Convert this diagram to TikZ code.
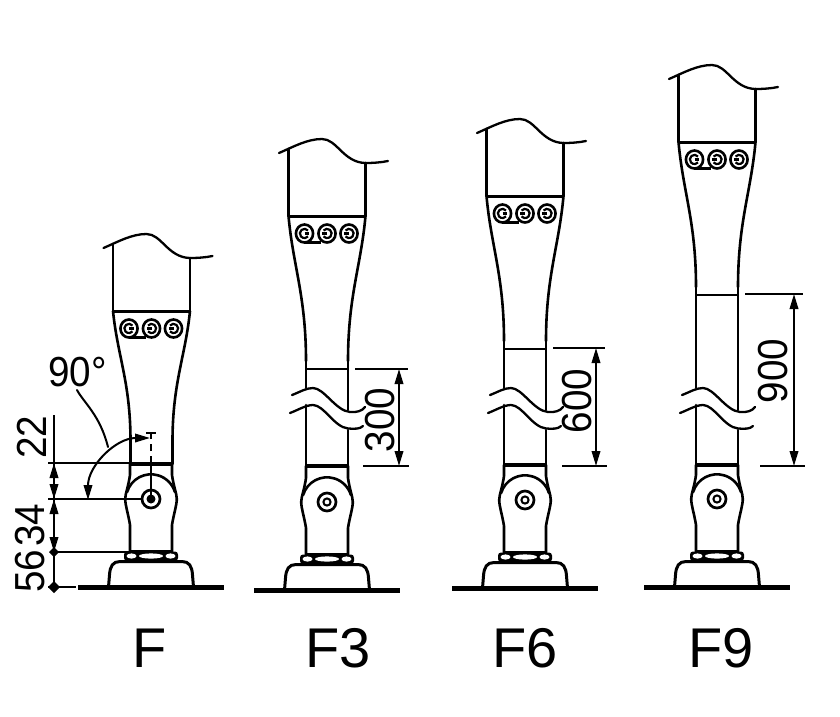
\documentclass[tikz,border=0pt]{standalone}
\usepackage{fontspec}
\setmainfont{Liberation Sans}
\usetikzlibrary{arrows.meta}
\tikzset{
  x=1pt,y=-1pt,
  body/.style={line width=2.6pt,line cap=round,line join=round},
  thinl/.style={line width=1.7pt},
  thickbar/.style={line width=4.5pt},
  wavel/.style={line width=2.3pt,line cap=round},
  dimline/.style={line width=2pt},
  dimarrow/.style={line width=2pt,{Triangle[length=15pt,width=8.5pt]}-{Triangle[length=15pt,width=8.5pt]}},
  dimtext/.style={inner sep=0pt,font=\fontsize{42}{42}\selectfont},
  modeltext/.style={inner sep=0pt,anchor=base,font=\fontsize{56}{56}\selectfont},
  logol/.style={line width=2.6pt},
  logoi/.style={line width=2.2pt}
}
\newcommand{\narrowtxt}[1]{\scalebox{0.92}[1]{#1}}
% foot: #1 centre x, #2 ground y, #3 bar y relative to ground, #4 1 = filled pin
\newcommand{\footpart}[4]{%
\begin{scope}[shift={(#1,#2)}]
  \fill (-73,-2.5) rectangle (73,2.5);
  \draw[line width=3pt,line join=round] (-42.5,0) -- (-41.5,-12) .. controls (-41,-21) and (-38,-25.5) .. (-31,-25.5) -- (31,-25.5) .. controls (38,-25.5) and (41,-21) .. (41.5,-12) -- (42.5,0);
  \fill[rounded corners=3pt] (-27,-35.5) rectangle (27,-26);
  \fill[white] (-19.5,-31) ellipse [x radius=5pt,y radius=2.6pt];
  \fill[white] (0,-31) ellipse [x radius=12pt,y radius=2.6pt];
  \fill[white] (19.5,-31) ellipse [x radius=5pt,y radius=2.6pt];
  \draw[body] (-21,-35) -- (-21,-62) .. controls (-22.5,-72) and (-25.8,-82) .. (-25.8,-88) .. controls (-25.8,-93) and (-22.5,-101) .. (-21,-112) -- (-21,#3);
  \draw[body] (21,-35) -- (21,-62) .. controls (22.5,-72) and (25.8,-82) .. (25.8,-88) .. controls (25.8,-93) and (22.5,-101) .. (21,-112) -- (21,#3);
  \draw[thinl] (-21,-36) -- (21,-36);
  \draw[body] (-23.9,-95) arc[start angle=163,end angle=17,radius=25pt];
  \draw[thickbar] (-21,#3) -- (21,#3);
  \draw[line width=2.7pt] (0,-88) circle[radius=9pt];
  \ifnum#4=1 \fill (0,-88) circle[radius=4.5pt];
  \else \draw[line width=2pt] (0,-88) circle[radius=3.6pt];\fi
\end{scope}}
% upper shaft: #1 centre x, #2 thick line y, #3 taper length
\newcommand{\upperpart}[3]{%
\begin{scope}[shift={(#1,#2)}]
  \draw[wavel] (-48,-63) .. controls (-34,-69) and (-20,-77) .. (-5,-77) .. controls (10,-77) and (16,-54) .. (38,-53) .. controls (46,-53) and (54,-53.5) .. (61,-55);
  \draw[body] (-38.5,-67) -- (-38.5,0);
  \draw[body] (38.5,-53) -- (38.5,0);
  \draw[line width=3pt] (-38.5,0) -- (38.5,0);
  \draw[body] (-38.5,0) .. controls (-34,{0.345*#3}) and (-21,{0.55*#3}) .. (-21,#3);
  \draw[body] (38.5,0) .. controls (34,{0.345*#3}) and (21,{0.55*#3}) .. (21,#3);
  \begin{scope}[shift={(0,17.5)}]
    \foreach \lx in {-22.5,0,22} \draw[logol] (\lx,0) ellipse[x radius=8.6pt,y radius=9pt];
    \draw[logoi] (-19,-3) arc[start angle=40,end angle=320,radius=4.6pt];
    \draw[logoi] (-22.5,0) -- (-18,0);
    \draw[logoi] (-3.5,-3) arc[start angle=140,end angle=-140,radius=4.6pt];
    \draw[logoi] (0,0) -- (-4.6,0);
    \draw[logoi] (18.5,-3) arc[start angle=140,end angle=-140,radius=4.6pt];
    \draw[logoi] (22,0) -- (17.4,0);
    \draw[line width=2.3pt] (-22.5,9) -- (-6,9);
  \end{scope}
\end{scope}}
% broken narrow part: #1 centre x, #2 taper end y, #3 thin line y, #4 bar y
\newcommand{\brokenpart}[4]{%
\begin{scope}[shift={(#1,0)}]
  \draw[thinl] (-21,#3) -- (21,#3);
  \draw[body] (-21,#2) -- (-21,388);
  \draw[body] (21,#2) -- (21,410);
  \draw[body] (-21,405) -- (-21,#4);
  \draw[body] (21,430) -- (21,#4);
  \draw[wavel] (-35,395) .. controls (-27,392) and (-21,388) .. (-14,388) .. controls (-3,388) and (9,411) .. (23,412) .. controls (30,412.5) and (35,411) .. (38,407);
  \draw[wavel] (-37,413) .. controls (-29,410) and (-21,405) .. (-14,405) .. controls (-3,405) and (7,427) .. (21,428.5) .. controls (28,429) and (33,429) .. (36,426);
\end{scope}}
\begin{document}
\begin{tikzpicture}
\useasboundingbox (0,0) rectangle (840,716);
\fill[white] (0,0) rectangle (840,716);

% --- F ---
\upperpart{151.5}{311}{130}
\draw[body] (130.5,441) -- (130.5,464);
\draw[body] (172.5,441) -- (172.5,464);
\footpart{151}{587}{-123}{1}
% --- F3 ---
\upperpart{327}{216}{145}
\brokenpart{327}{361}{369}{466}
\footpart{327}{590}{-124}{0}
% --- F6 ---
\upperpart{525}{196}{145}
\brokenpart{525}{341}{349}{465}
\footpart{525}{588}{-123}{0}
% --- F9 ---
\upperpart{717}{142}{145}
\brokenpart{717}{287}{295}{465}
\footpart{717}{587}{-122}{0}

% --- dimensions F ---
\coordinate (dimtop) at (54,415);
\coordinate (dimbot) at (54,587);
\coordinate (d22) at (54,463);
\coordinate (d34) at (54,499);
\coordinate (d56) at (54,552);
\draw[dimline] (dimtop) -- (dimbot);
\draw[dimline] (48,463) -- (130,463);
\draw[dimline] (48,499) -- (142,499);
\draw[dimline] (d56) -- (130,552);
\draw[dimline] (48,587) -- (76,587);
\draw[dimarrow] (d22) -- (d34);
\draw[dimarrow] (d34) -- (d56);
\fill (d56) ++(-5,0) -- ++(5,-5) -- ++(5,5) -- ++(-5,5) -- cycle;
\fill (dimbot) ++(-6,0) -- ++(6,-6) -- ++(6,6) -- ++(-6,6) -- cycle;
\node[dimtext,rotate=90] (t22) at (32,437) {\narrowtxt{22}};
\node[dimtext,rotate=90] (t34) at (30,525) {\narrowtxt{34}};
\node[dimtext,rotate=90] (t56) at (30,571) {\narrowtxt{56}};
\node[dimtext,anchor=west] (t90) at (48,372) {\narrowtxt{90°}};
% angle
\coordinate (pinF) at (151,499);
\draw[line width=2pt] (pinF) -- (151,463);
\draw[line width=2pt,dash pattern=on 7pt off 5pt] (151,463) -- (151,433);
\draw[line width=2pt] (146,433) -- (156,433);
\draw[line width=2pt,{Triangle[length=15pt,width=8.5pt]}-{Triangle[length=15pt,width=8.5pt]}] (150,438) arc[start angle=90,end angle=180,radius=62pt];
\draw[line width=2pt,line cap=round] (77,390) .. controls (84,403) and (100,415) .. (108,447);

% --- dimension 300 ---
\draw[dimline] (355,369) -- (408,369);
\draw[dimline] (363,466) -- (409,466);
\coordinate (a3) at (399,369); \coordinate (b3) at (399,466);
\draw[dimarrow] (a3) -- (b3);
\node[dimtext,rotate=90] (t300) at (380,420) {\narrowtxt{300}};
% --- dimension 600 ---
\draw[dimline] (553,348) -- (605,348);
\draw[dimline] (562,466) -- (607,466);
\coordinate (a6) at (596,348); \coordinate (b6) at (596,466);
\draw[dimarrow] (a6) -- (b6);
\node[dimtext,rotate=90] (t600) at (577,401) {\narrowtxt{600}};
% --- dimension 900 ---
\draw[dimline] (745,294) -- (803,294);
\draw[dimline] (760,466) -- (805,466);
\coordinate (a9) at (794,294); \coordinate (b9) at (794,466);
\draw[dimarrow] (a9) -- (b9);
\node[dimtext,rotate=90] (t900) at (773,371) {\narrowtxt{900}};

% --- labels ---
\node[modeltext] (lF) at (150,667) {F};
\node[modeltext] (lF3) at (338,667) {F3};
\node[modeltext] (lF6) at (525,667) {F6};
\node[modeltext] (lF9) at (721,667) {F9};
\end{tikzpicture}
\end{document}
